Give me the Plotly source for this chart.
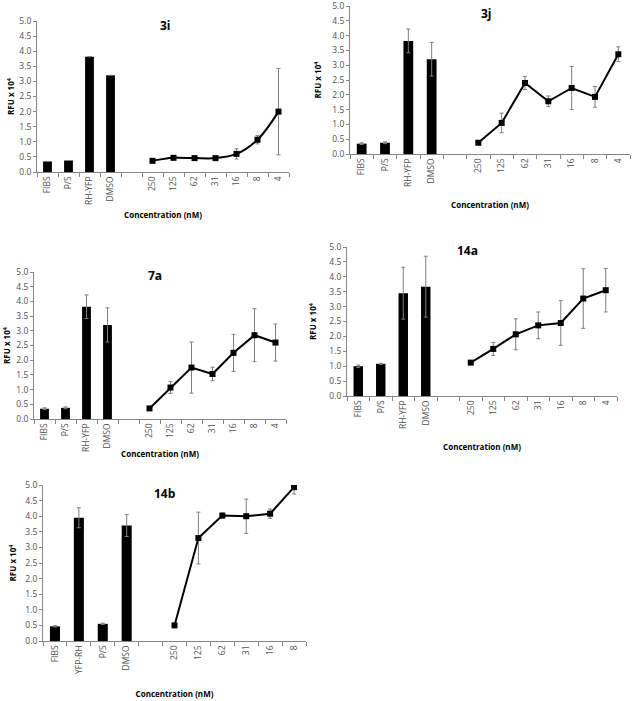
import plotly.graph_objects as go

# ---------------- data ----------------
ctrl_3 = ["FIBS", "P/S", "RH-YFP", "DMSO"]
ctrl_14b = ["FIBS", "YFP-RH", "P/S", "DMSO"]
conc_7 = ["250", "125", "62", "31", "16", "8", "4"]
conc_6 = ["250", "125", "62", "31", "16", "8"]

bar_3i = [0.35, 0.38, 3.82, 3.20]
bar_3i_err = [0, 0, 0, 0]
line_3i = [0.37, 0.47, 0.46, 0.46, 0.60, 1.07, 2.00]
line_3i_err = [0.03, 0.04, 0.06, 0.03, 0.17, 0.14, 1.43]

bar_3j = [0.35, 0.38, 3.82, 3.20]
bar_3j_err = [0.03, 0.03, 0.40, 0.57]
line_3j = [0.38, 1.05, 2.40, 1.78, 2.23, 1.93, 3.37]
line_3j_err = [0.03, 0.33, 0.22, 0.18, 0.73, 0.35, 0.25]

bar_7a = [0.35, 0.38, 3.82, 3.20]
bar_7a_err = [0.03, 0.03, 0.40, 0.58]
line_7a = [0.36, 1.07, 1.75, 1.53, 2.25, 2.85, 2.60]
line_7a_err = [0.02, 0.20, 0.87, 0.23, 0.63, 0.90, 0.63]

bar_14a = [1.00, 1.08, 3.45, 3.67]
bar_14a_err = [0.04, 0.02, 0.87, 1.02]
line_14a = [1.12, 1.58, 2.07, 2.37, 2.45, 3.27, 3.55]
line_14a_err = [0.03, 0.22, 0.52, 0.45, 0.75, 1.00, 0.73]

bar_14b = [0.47, 3.95, 0.55, 3.70]
bar_14b_err = [0.02, 0.32, 0.02, 0.35]
line_14b = [0.50, 3.30, 4.02, 4.00, 4.08, 4.93]
line_14b_err = [0.03, 0.83, 0.08, 0.55, 0.15, 0.22]

W, H = 635, 701

# panel: name, controls, bars, bar errs, conc, line, line errs, plot px box (x0,x1,ytop,ybottom),
# title pos, x-title standoff, y-title standoff, spline
panels = [
    ("3i", ctrl_3, bar_3i, bar_3i_err, conc_7, line_3i, line_3i_err,
     (37, 289, 21, 172), (165, 26), 8, 3, True),
    ("3j", ctrl_3, bar_3j, bar_3j_err, conc_7, line_3j, line_3j_err,
     (350, 630, 6, 154), (487, 14), 16, 9, False),
    ("7a", ctrl_3, bar_7a, bar_7a_err, conc_7, line_7a, line_7a_err,
     (34, 286, 272, 419), (155, 275), 0, 4, False),
    ("14a", ctrl_3, bar_14a, bar_14a_err, conc_7, line_14a, line_14a_err,
     (347, 617, 247, 396), (467, 250), 16, 11, False),
    ("14b", ctrl_14b, bar_14b, bar_14b_err, conc_6, line_14b, line_14b_err,
     (43, 306, 485, 641), (165, 493), 18, 7, False),
]

fig = go.Figure()
annotations = []
FONT = "Open Sans, Liberation Sans, sans-serif"
GREY = "#7f7f7f"
AXC = "#868686"


def ann(text, px, py, size, angle=0):
    return dict(text=text, x=px / W, y=1 - py / H, xref="paper", yref="paper",
                xanchor="center", yanchor="middle", showarrow=False, textangle=angle,
                font=dict(family=FONT, size=size, color="black"))


for i, (name, ctrl, bars, berr, conc, line, lerr, box, tpos, xso, yso, spline) in enumerate(panels):
    idx = "" if i == 0 else str(i + 1)
    xa, ya = "x" + idx, "y" + idx
    # category slots: controls, one empty slot, concentrations
    labels = ctrl + conc
    pos = list(range(len(ctrl))) + [len(ctrl) + 1 + k for k in range(len(conc))]
    ncat = len(ctrl) + 1 + len(conc)
    bx = pos[:len(ctrl)]
    lx = pos[len(ctrl):]
    fig.add_trace(go.Bar(
        x=bx, y=bars, xaxis=xa, yaxis=ya,
        marker=dict(color="black", line=dict(width=0)), width=0.42,
        error_y=dict(type="data", array=berr, visible=True, color=GREY, thickness=1, width=2),
        showlegend=False))
    fig.add_trace(go.Scatter(
        x=lx, y=line, xaxis=xa, yaxis=ya, mode="lines+markers",
        line=dict(color="black", width=2, shape="spline" if spline else "linear"),
        marker=dict(symbol="square", size=6, color="black"),
        error_y=dict(type="data", array=lerr, visible=True, color=GREY, thickness=1, width=2),
        showlegend=False))
    x0, x1, yt, yb = box
    fig.layout["xaxis" + idx] = dict(
        domain=[x0 / W, x1 / W], anchor=ya, range=[-0.5, ncat - 0.5],
        tickmode="array", tickvals=pos, ticktext=labels, ticks="",
        minor=dict(tickmode="array", tickvals=[k - 0.5 for k in range(ncat + 1)],
                   ticks="outside", ticklen=4, tickcolor=AXC, showgrid=False),
        showline=True, linecolor=AXC, linewidth=1, tickangle=-90,
        tickfont=dict(family=FONT, size=8.5, color="#505050"), showgrid=False, zeroline=False,
        title=dict(text="<b>Concentration (nM)</b>", standoff=xso,
                   font=dict(family=FONT, size=8, color="black")),
        automargin=False, ticklabeloverflow="allow", fixedrange=True)
    fig.layout["yaxis" + idx] = dict(
        domain=[1 - yb / H, 1 - yt / H], anchor=xa, range=[0, 5], dtick=0.5,
        tickformat=".1f", ticks="outside", ticklen=3, tickcolor=AXC,
        showline=True, linecolor=AXC, linewidth=1, showgrid=False, zeroline=False,
        tickfont=dict(family=FONT, size=8.5, color="#505050"),
        title=dict(text="<b>RFU x 10<sup>4</sup></b>", standoff=yso,
                   font=dict(family=FONT, size=8, color="black")),
        automargin=False, ticklabeloverflow="allow", fixedrange=True)
    annotations.append(ann("<b>%s</b>" % name, tpos[0], tpos[1], 12))

fig.update_layout(
    width=W, height=H, margin=dict(l=0, r=0, t=0, b=0, autoexpand=False),
    paper_bgcolor="white", plot_bgcolor="white",
    barmode="overlay", annotations=annotations,
)

fig.write_html("out.html", config={"displayModeBar": False},
               post_script="document.body.style.margin='0';document.body.style.overflow='hidden';")
